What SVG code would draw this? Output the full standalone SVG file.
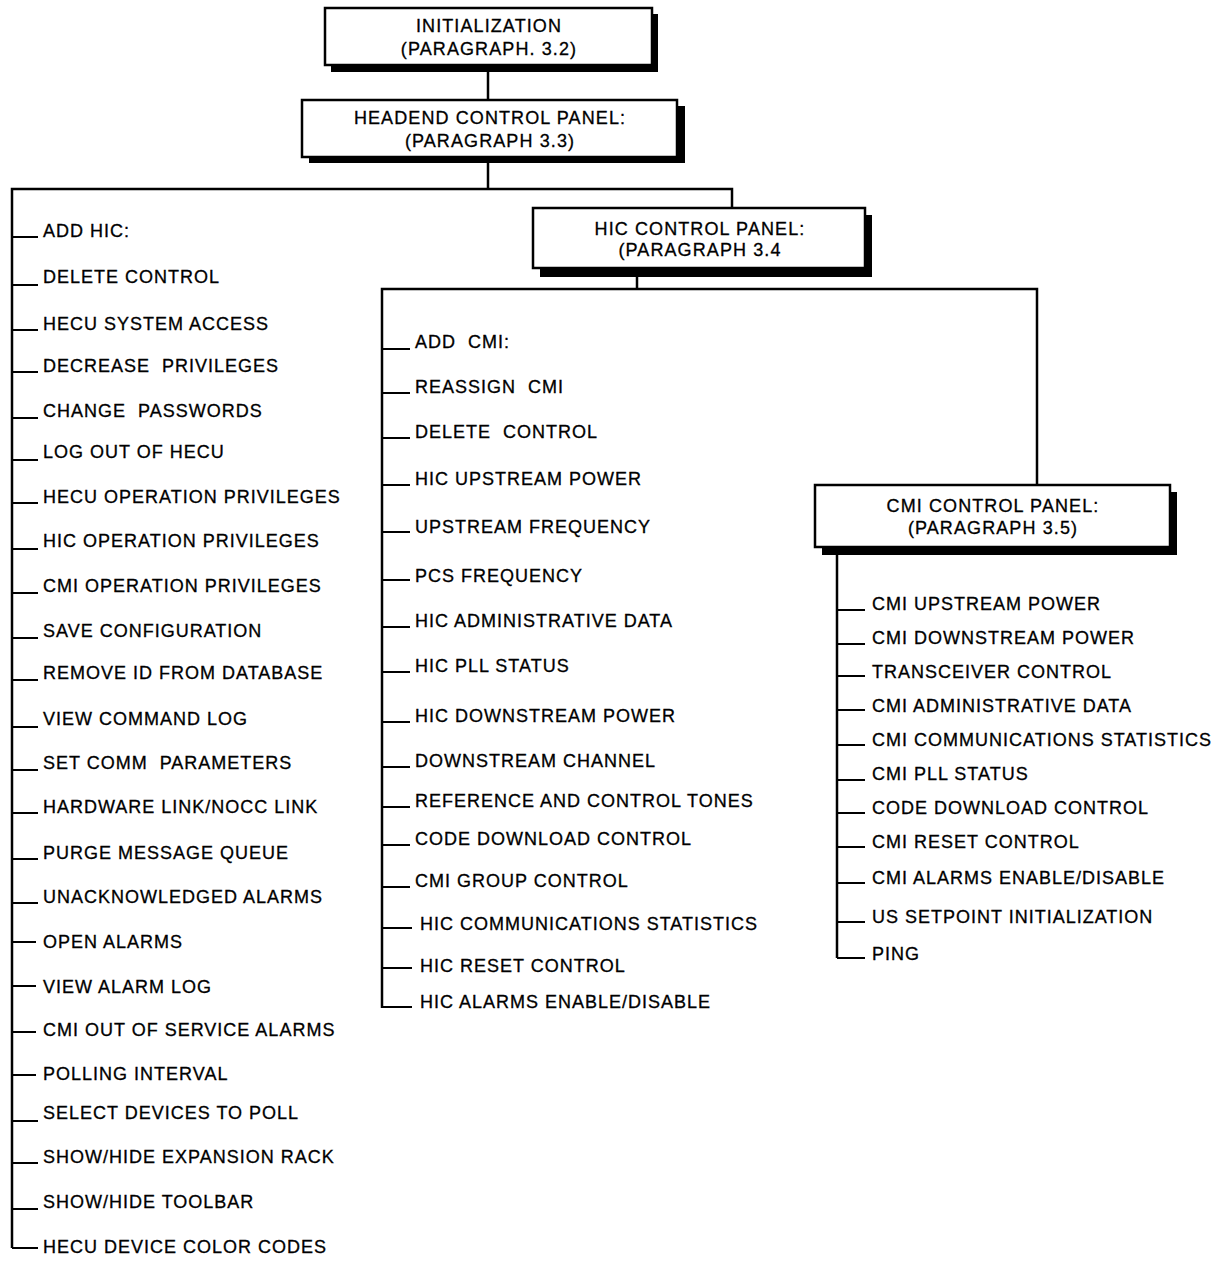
<svg xmlns="http://www.w3.org/2000/svg" width="1225" height="1263" viewBox="0 0 1225 1263">
<style>
  text { font-family: "Liberation Sans", Arial, sans-serif; font-size: 18px; fill: #000; stroke: #000; stroke-width: 0.3; letter-spacing: 1px; white-space: pre; }
  .bt { text-anchor: middle; letter-spacing: 1.1px; }
  .shadow { fill: #000; }
  .box { fill: #fff; stroke: #000; stroke-width: 2.5; }
  .ln { stroke: #000; stroke-width: 2.5; fill: none; }
  .tk { stroke: #000; stroke-width: 2; fill: none; }
</style>
<rect width="1225" height="1263" fill="#fff"/>

<g id="connectors">
  <line class="ln" x1="488" y1="72" x2="488" y2="100"/>
  <line class="ln" x1="488" y1="163" x2="488" y2="189"/>
  <polyline class="ln" points="12,1248 12,189 732,189 732,208"/>
  <line class="ln" x1="637" y1="275" x2="637" y2="289"/>
  <polyline class="ln" points="382,1008 382,289 1037,289 1037,485"/>
  <line class="ln" x1="837" y1="555" x2="837" y2="958"/>
  <g class="tk-left">
    <line class="tk" x1="12" y1="237" x2="38" y2="237"/>
    <line class="tk" x1="12" y1="285" x2="38" y2="285"/>
    <line class="tk" x1="12" y1="330" x2="38" y2="330"/>
    <line class="tk" x1="12" y1="372" x2="38" y2="372"/>
    <line class="tk" x1="12" y1="418" x2="38" y2="418"/>
    <line class="tk" x1="12" y1="460" x2="38" y2="460"/>
    <line class="tk" x1="12" y1="503" x2="38" y2="503"/>
    <line class="tk" x1="12" y1="549" x2="38" y2="549"/>
    <line class="tk" x1="12" y1="593" x2="38" y2="593"/>
    <line class="tk" x1="12" y1="638" x2="38" y2="638"/>
    <line class="tk" x1="12" y1="680" x2="38" y2="680"/>
    <line class="tk" x1="12" y1="727" x2="38" y2="727"/>
    <line class="tk" x1="12" y1="770" x2="38" y2="770"/>
    <line class="tk" x1="12" y1="813" x2="38" y2="813"/>
    <line class="tk" x1="12" y1="859" x2="38" y2="859"/>
    <line class="tk" x1="12" y1="903" x2="38" y2="903"/>
    <line class="tk" x1="12" y1="942" x2="36" y2="942"/>
    <line class="tk" x1="12" y1="986" x2="36" y2="986"/>
    <line class="tk" x1="12" y1="1032" x2="36" y2="1032"/>
    <line class="tk" x1="12" y1="1075" x2="36" y2="1075"/>
    <line class="tk" x1="12" y1="1121" x2="38" y2="1121"/>
    <line class="tk" x1="12" y1="1163" x2="38" y2="1163"/>
    <line class="tk" x1="12" y1="1209" x2="38" y2="1209"/>
    <line class="tk" x1="12" y1="1248" x2="38" y2="1248"/>
  </g>
  <g class="tk-mid">
    <line class="tk" x1="382" y1="349" x2="410" y2="349"/>
    <line class="tk" x1="382" y1="393" x2="410" y2="393"/>
    <line class="tk" x1="382" y1="438" x2="410" y2="438"/>
    <line class="tk" x1="382" y1="485" x2="410" y2="485"/>
    <line class="tk" x1="382" y1="532" x2="410" y2="532"/>
    <line class="tk" x1="382" y1="580" x2="410" y2="580"/>
    <line class="tk" x1="382" y1="627" x2="410" y2="627"/>
    <line class="tk" x1="382" y1="672" x2="410" y2="672"/>
    <line class="tk" x1="382" y1="722" x2="410" y2="722"/>
    <line class="tk" x1="382" y1="767" x2="410" y2="767"/>
    <line class="tk" x1="382" y1="807" x2="410" y2="807"/>
    <line class="tk" x1="382" y1="845" x2="410" y2="845"/>
    <line class="tk" x1="382" y1="887" x2="410" y2="887"/>
    <line class="tk" x1="382" y1="928" x2="412" y2="928"/>
    <line class="tk" x1="382" y1="968" x2="412" y2="968"/>
    <line class="tk" x1="382" y1="1007" x2="412" y2="1007"/>
  </g>
  <g class="tk-right">
    <line class="tk" x1="837" y1="610" x2="865" y2="610"/>
    <line class="tk" x1="837" y1="644" x2="865" y2="644"/>
    <line class="tk" x1="837" y1="676" x2="865" y2="676"/>
    <line class="tk" x1="837" y1="710" x2="865" y2="710"/>
    <line class="tk" x1="837" y1="745" x2="865" y2="745"/>
    <line class="tk" x1="837" y1="780" x2="865" y2="780"/>
    <line class="tk" x1="837" y1="813" x2="865" y2="813"/>
    <line class="tk" x1="837" y1="847" x2="865" y2="847"/>
    <line class="tk" x1="837" y1="883" x2="865" y2="883"/>
    <line class="tk" x1="837" y1="922" x2="865" y2="922"/>
    <line class="tk" x1="837" y1="958" x2="865" y2="958"/>
  </g>
</g>

<g id="node-initialization">
  <rect class="shadow" x="331" y="14" width="327" height="58"/>
  <rect class="box" x="325" y="8" width="327" height="57"/>
  <text class="bt" x="489" y="32">INITIALIZATION</text>
  <text class="bt" x="489" y="55">(PARAGRAPH. 3.2)</text>
</g>

<g id="node-headend">
  <rect class="shadow" x="309" y="106" width="376" height="57"/>
  <rect class="box" x="302" y="100" width="375" height="57"/>
  <text class="bt" x="490" y="124">HEADEND CONTROL PANEL:</text>
  <text class="bt" x="490" y="147">(PARAGRAPH 3.3)</text>
</g>

<g id="node-hic">
  <rect class="shadow" x="540" y="215" width="332" height="62"/>
  <rect class="box" x="533" y="208" width="332" height="60"/>
  <text class="bt" x="700" y="235">HIC CONTROL PANEL:</text>
  <text class="bt" x="700" y="256">(PARAGRAPH 3.4</text>
</g>

<g id="node-cmi">
  <rect class="shadow" x="822" y="492" width="355" height="63"/>
  <rect class="box" x="815" y="485" width="355" height="62"/>
  <text class="bt" x="993" y="512">CMI CONTROL PANEL:</text>
  <text class="bt" x="993" y="534">(PARAGRAPH 3.5)</text>
</g>

<g id="headend-items">
  <text x="43" y="237">ADD HIC:</text>
  <text x="43" y="283">DELETE CONTROL</text>
  <text x="43" y="330">HECU SYSTEM ACCESS</text>
  <text x="43" y="372">DECREASE  PRIVILEGES</text>
  <text x="43" y="417">CHANGE  PASSWORDS</text>
  <text x="43" y="458">LOG OUT OF HECU</text>
  <text x="43" y="503">HECU OPERATION PRIVILEGES</text>
  <text x="43" y="547">HIC OPERATION PRIVILEGES</text>
  <text x="43" y="592">CMI OPERATION PRIVILEGES</text>
  <text x="43" y="637">SAVE CONFIGURATION</text>
  <text x="43" y="679">REMOVE ID FROM DATABASE</text>
  <text x="43" y="725">VIEW COMMAND LOG</text>
  <text x="43" y="769">SET COMM  PARAMETERS</text>
  <text x="43" y="813">HARDWARE LINK/NOCC LINK</text>
  <text x="43" y="859">PURGE MESSAGE QUEUE</text>
  <text x="43" y="903">UNACKNOWLEDGED ALARMS</text>
  <text x="43" y="948">OPEN ALARMS</text>
  <text x="43" y="993">VIEW ALARM LOG</text>
  <text x="43" y="1036">CMI OUT OF SERVICE ALARMS</text>
  <text x="43" y="1080">POLLING INTERVAL</text>
  <text x="43" y="1119">SELECT DEVICES TO POLL</text>
  <text x="43" y="1163">SHOW/HIDE EXPANSION RACK</text>
  <text x="43" y="1208">SHOW/HIDE TOOLBAR</text>
  <text x="43" y="1253">HECU DEVICE COLOR CODES</text>
</g>

<g id="hic-items">
  <text x="415" y="348">ADD  CMI:</text>
  <text x="415" y="393">REASSIGN  CMI</text>
  <text x="415" y="438">DELETE  CONTROL</text>
  <text x="415" y="485">HIC UPSTREAM POWER</text>
  <text x="415" y="533">UPSTREAM FREQUENCY</text>
  <text x="415" y="582">PCS FREQUENCY</text>
  <text x="415" y="627">HIC ADMINISTRATIVE DATA</text>
  <text x="415" y="672">HIC PLL STATUS</text>
  <text x="415" y="722">HIC DOWNSTREAM POWER</text>
  <text x="415" y="767">DOWNSTREAM CHANNEL</text>
  <text x="415" y="807">REFERENCE AND CONTROL TONES</text>
  <text x="415" y="845">CODE DOWNLOAD CONTROL</text>
  <text x="415" y="887">CMI GROUP CONTROL</text>
  <text x="420" y="930">HIC COMMUNICATIONS STATISTICS</text>
  <text x="420" y="972">HIC RESET CONTROL</text>
  <text x="420" y="1008">HIC ALARMS ENABLE/DISABLE</text>
</g>

<g id="cmi-items">
  <text x="872" y="610">CMI UPSTREAM POWER</text>
  <text x="872" y="644">CMI DOWNSTREAM POWER</text>
  <text x="872" y="678">TRANSCEIVER CONTROL</text>
  <text x="872" y="712">CMI ADMINISTRATIVE DATA</text>
  <text x="872" y="746">CMI COMMUNICATIONS STATISTICS</text>
  <text x="872" y="780">CMI PLL STATUS</text>
  <text x="872" y="814">CODE DOWNLOAD CONTROL</text>
  <text x="872" y="848">CMI RESET CONTROL</text>
  <text x="872" y="884">CMI ALARMS ENABLE/DISABLE</text>
  <text x="872" y="923">US SETPOINT INITIALIZATION</text>
  <text x="872" y="960">PING</text>
</g>
</svg>
